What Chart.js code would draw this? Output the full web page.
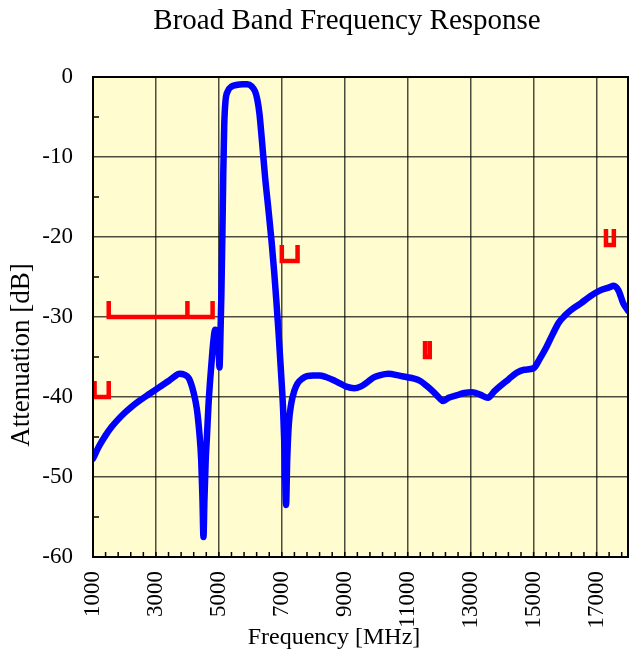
<!DOCTYPE html>
<html>
<head>
<meta charset="utf-8">
<script src="https://cdn.jsdelivr.net/npm/chart.js@4/dist/chart.umd.min.js"></script>
<style>
  html, body { margin: 0; padding: 0; background: #fff; }
  #wrap { width: 630px; height: 656px; }
</style>
</head>
<body>
<div id="wrap"><canvas id="js-freq-chart" width="630" height="656"></canvas></div>
<script>
// measured response (MHz, dB)
const freqMHz = [
	1000, 1200, 1400, 1600, 1800, 2000, 2200, 2500, 2800, 3100, 3400, 3600, 3750, 3900, 4050, 4200,
	4300, 4380, 4440, 4480, 4510, 4540, 4580, 4620, 4670, 4720, 4780, 4830, 4880, 4930, 4970, 5000,
	5020, 5040, 5080, 5110, 5140, 5170, 5210, 5280, 5400, 5550, 5750, 5900, 6050, 6150, 6220, 6290,
	6365, 6470, 6575, 6680, 6760, 6830, 6900, 6970, 7040, 7090, 7135, 7170, 7220, 7300, 7400, 7500, 7650,
	7800, 8000, 8200, 8400, 8650, 8850, 9050, 9300, 9500, 9700, 9900, 10100, 10400, 10700, 10950, 11200,
	11400, 11600, 11800, 12000, 12130, 12300, 12550, 12800, 13050, 13300, 13550, 13750, 13950, 14200, 14450, 14700,
	15000, 15200, 15400, 15600, 15800, 16000, 16200, 16500, 16800, 17100, 17400, 17550, 17700, 17850, 18000
];
const attenDb = [
	-47.7, -46.1, -44.8, -43.7, -42.8, -42.0, -41.3, -40.4, -39.6, -38.8, -38.0, -37.4, -37.1, -37.2, -37.7, -39.5,
	-41.5, -44.5, -48.0, -53.0, -57.5, -53.0, -48.0, -45.0, -41.0, -38.0, -35.0, -32.8, -31.6, -31.8, -33.0, -35.0,
	-36.3, -34.0, -27.0, -20.0, -12.0, -6.0, -3.0, -1.8, -1.2, -1.0, -0.9, -0.9, -1.2, -1.8, -2.8, -4.6,
	-7.8, -12.6, -16.6, -20.8, -24.5, -28.2, -32.2, -36.6, -41.5, -47.0, -53.5, -48.0, -43.5, -40.8, -39.2, -38.3, -37.7,
	-37.4, -37.3, -37.3, -37.5, -37.9, -38.3, -38.7, -38.9, -38.7, -38.2, -37.6, -37.3, -37.1, -37.3, -37.5, -37.7,
	-38.0, -38.6, -39.3, -40.1, -40.5, -40.1, -39.8, -39.5, -39.4, -39.7, -40.1, -39.3, -38.6, -37.8, -37.0, -36.6,
	-36.4, -35.2, -33.8, -32.2, -30.7, -29.8, -29.1, -28.3, -27.4, -26.7, -26.3, -26.1, -26.7, -28.3, -29.2
];

// spec mask (null breaks the line)
const maskFreq = [
	1050, 1050, 1500, 1500, null,
	1500, 1500, 4000, 4000, 4000, 4800, 4800, null,
	7000, 7000, 7500, 7500, null,
	11550, 11550, 11700, 11700, null,
	17300, 17300, 17550, 17550
];
const maskDb = [
	-38, -40, -40, -38, null,
	-28, -30, -30, -28, -30, -30, -28, null,
	-21, -23, -23, -21, null,
	-33, -35, -35, -33, null,
	-19, -21, -21, -19
];

const xTicks = [1000, 3000, 5000, 7000, 9000, 11000, 13000, 15000, 17000];
const yTicks = [0, -10, -20, -30, -40, -50, -60];

const chartTitle = 'Broad Band Frequency Response';
const xTitle = 'Frequency [MHz]';
const yTitle = 'Attenuation [dB]';

const responsePoints = freqMHz.map((f, i) => ({ x: f, y: attenDb[i] }));
const maskPoints = maskFreq.map((f, i) => ({ x: f === null ? maskFreq[i - 1] : f, y: maskDb[i] }));

const serif = 'Liberation Serif';

const plotDecor = {
	id: 'plotDecor',
	beforeDraw(chart) {
		const { ctx, chartArea: a } = chart;
		ctx.save();
		ctx.fillStyle = '#FFFDCF';
		ctx.fillRect(a.left, a.top, a.right - a.left, a.bottom - a.top);
		ctx.restore();
	},
	beforeDatasetsDraw(chart) {
		const { ctx, chartArea: a, scales } = chart;
		ctx.save();
		ctx.strokeStyle = '#000';
		ctx.lineWidth = 1.5;
		ctx.beginPath();
		// minor ticks on x every 400 MHz
		for (let f = 1400; f < 18000; f += 400) {
			const px = scales.x.getPixelForValue(f);
			ctx.moveTo(px, a.bottom);
			ctx.lineTo(px, a.bottom - 5);
		}
		// minor ticks on y every 5 dB
		for (let v = -55; v < 0; v += 10) {
			const py = scales.y.getPixelForValue(v);
			ctx.moveTo(a.left, py);
			ctx.lineTo(a.left + 6, py);
		}
		ctx.stroke();
		ctx.restore();
	},
	afterDraw(chart) {
		const { ctx, chartArea: a } = chart;
		ctx.save();
		ctx.strokeStyle = '#000';
		ctx.lineWidth = 2;
		ctx.strokeRect(a.left, a.top, a.right - a.left, a.bottom - a.top);

		// titles
		ctx.fillStyle = '#000';
		ctx.textAlign = 'center';
		ctx.textBaseline = 'middle';
		ctx.font = '29px "' + serif + '"';
		ctx.fillText(chartTitle, 347, 21);
		ctx.font = '24px "' + serif + '"';
		ctx.fillText(xTitle, 334, 638);
		ctx.translate(22, 355);
		ctx.rotate(-Math.PI / 2);
		ctx.font = '27px "' + serif + '"';
		ctx.fillText(yTitle, 0, 0);
		ctx.restore();
	},
};

new Chart(document.getElementById('js-freq-chart'), {
	type: 'line',
	data: {
		datasets: [
			{
				label: 'Response',
				data: responsePoints,
				borderColor: '#0000FF',
				borderWidth: 6.5,
				pointRadius: 0,
				cubicInterpolationMode: 'monotone',
				borderCapStyle: 'round',
				borderJoinStyle: 'round',
			},
			{
				label: 'Mask',
				data: maskPoints,
				borderColor: '#FF0000',
				borderWidth: 4.5,
				pointRadius: 0,
				tension: 0,
				spanGaps: false,
				borderJoinStyle: 'miter',
				borderCapStyle: 'butt',
			},
		],
	},
	options: {
		responsive: false,
		animation: false,
		devicePixelRatio: 1,
		layout: { padding: { left: 0, right: 2, top: 77, bottom: 0 } },
		plugins: {
			legend: { display: false },
			tooltip: { enabled: false },
			title: { display: false },
		},
		scales: {
			x: {
				type: 'linear',
				min: 1000,
				max: 18000,
				afterBuildTicks: (s) => { s.ticks = xTicks.map((v) => ({ value: v })); },
				afterFit: (s) => { s.height = 99; s.paddingLeft = 0; s.paddingRight = 0; },
				grid: { color: 'rgba(0,0,0,0.7)', lineWidth: 1.5, drawTicks: false },
				border: { display: false },
				ticks: {
					color: '#000',
					font: { family: serif, size: 23 },
					maxRotation: 90,
					minRotation: 90,
					padding: 14,
					autoSkip: false,
					callback: (v) => String(v),
				},
			},
			y: {
				type: 'linear',
				min: -60,
				max: 0,
				afterBuildTicks: (s) => { s.ticks = yTicks.map((v) => ({ value: v })); },
				afterFit: (s) => { s.width = 93; s.paddingTop = 0; s.paddingBottom = 0; },
				grid: { color: 'rgba(0,0,0,0.7)', lineWidth: 1.5, drawTicks: false },
				border: { display: false },
				ticks: {
					color: '#000',
					font: { family: serif, size: 23 },
					padding: 20,
					callback: (v) => String(v),
				},
			},
		},
	},
	plugins: [plotDecor],
});
</script>
</body>
</html>
